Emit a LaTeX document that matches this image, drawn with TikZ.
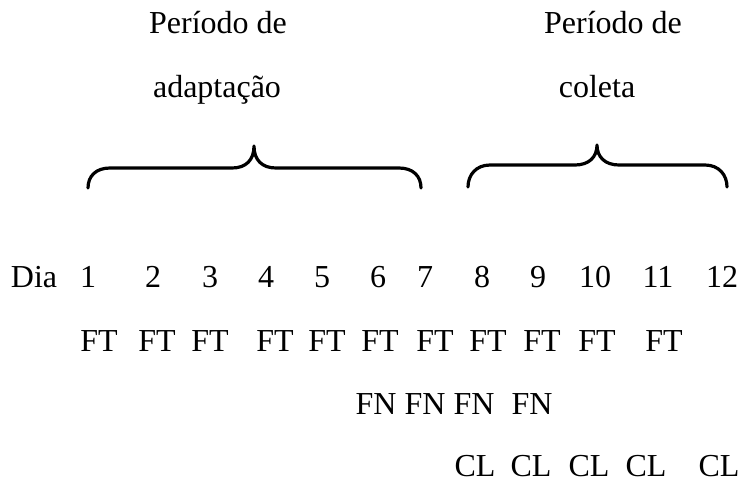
\documentclass[tikz,border=0pt]{standalone}
\usepackage{fontspec}
\setmainfont{Liberation Serif}
\begin{document}
\begin{tikzpicture}[x=1pt,y=-1pt,
  lbl/.style={anchor=base,inner sep=0pt,font=\fontsize{32}{38}\selectfont},
  brace/.style={line width=3.2pt,line cap=round,line join=round}]
\useasboundingbox (0,0) rectangle (741,483);
% top labels
\node[lbl] (p1a) at (218,33) {Período de};
\node[lbl] (p1b) at (217,97) {adaptação};
\node[lbl] (p2a) at (613,33) {Período de};
\node[lbl] (p2b) at (597,97) {coleta};
% braces
\draw[brace] (88,188) .. controls (88,176) and (96,168) .. (110,168) -- (232,168)
  .. controls (246,168) and (254,160) .. (254,146)
  .. controls (254,160) and (262,168) .. (276,168) -- (399,168)
  .. controls (413,168) and (421,176) .. (421,188);
\draw[brace] (468,187) .. controls (468,175) and (476,165) .. (490,165) -- (575,165)
  .. controls (589,165) and (597,157) .. (597,145)
  .. controls (597,157) and (605,165) .. (619,165) -- (705,165)
  .. controls (719,165) and (727,175) .. (727,187);
% day row
\node[lbl] (dia) at (34,287) {Dia};
\foreach \n/\x in {1/88,2/153,3/210,4/266,5/322,6/378,7/425,8/482,9/538,10/595,11/658,12/722}
  \node[lbl] (d\n) at (\x,287) {\n};
% FT row
\foreach \i/\x in {1/99,2/157,3/210,4/275,5/327,6/380,7/435,8/488,9/542,10/597,11/664}
  \node[lbl] (ft\i) at (\x,351) {FT};
% FN row
\foreach \i/\x in {1/376,2/425,3/474,4/532}
  \node[lbl] (fn\i) at (\x,414) {FN};
% CL row
\foreach \i/\x in {1/475,2/531,3/589,4/646,5/719}
  \node[lbl] (cl\i) at (\x,476) {CL};
\end{tikzpicture}
\end{document}
